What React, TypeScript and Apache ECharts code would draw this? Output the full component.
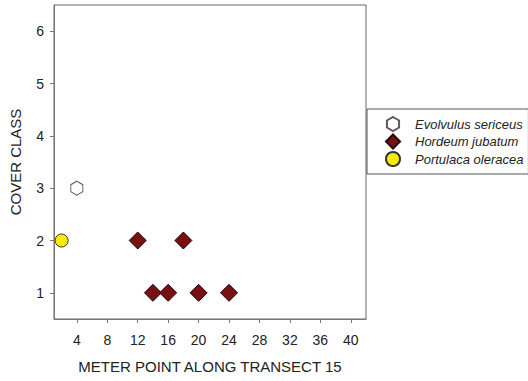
import React, { useEffect, useRef } from "react";
import * as echarts from "echarts";

const seriesNames = ["Evolvulus sericeus", "Hordeum jubatum", "Portulaca oleracea"];
const evolvulusX = [4];
const evolvulusY = [3];
const hordeumX = [12, 18, 14, 16, 20, 24];
const hordeumY = [2, 2, 1, 1, 1, 1];
const portulacaX = [2];
const portulacaY = [2];
const xTicks = [4, 8, 12, 16, 20, 24, 28, 32, 36, 40];
const yTicks = [1, 2, 3, 4, 5, 6];
const xTitle = "METER POINT ALONG TRANSECT 15";
const yTitle = "COVER CLASS";

const FONT = "'Liberation Sans', Arial, sans-serif";
const HEX = "path://M0,-1 L0.866,-0.5 L0.866,0.5 L0,1 L-0.866,0.5 L-0.866,-0.5 Z";

const zip = (xs: number[], ys: number[]) => xs.map((x, i) => [x, ys[i]]);

export default function App() {
  const ref = useRef<HTMLDivElement>(null);
  useEffect(() => {
    document.body.style.margin = "0";
    const chart = echarts.init(ref.current!, null, { renderer: "svg" });
    chart.setOption({
      animation: false,
      backgroundColor: "#fff",
      textStyle: { fontFamily: FONT },
      grid: {
        left: 53,
        top: 5,
        width: 313,
        height: 314,
        show: true,
        borderColor: "#666",
        borderWidth: 1,
        backgroundColor: "transparent",
      },
      legend: {
        orient: "vertical",
        left: 367,
        top: 109,
        padding: [7, 5, 7, 18],
        itemWidth: 14,
        itemHeight: 14,
        itemGap: 1.5,
        symbolKeepAspect: true,
        borderColor: "#555",
        borderWidth: 1,
        borderRadius: 0,
        textStyle: {
          fontSize: 13,
          fontStyle: "italic",
          color: "#222",
          fontFamily: FONT,
          padding: [0, 0, 0, 10],
        },
        data: seriesNames,
      },
      xAxis: {
        type: "value",
        min: 1,
        max: 42,
        name: xTitle,
        nameLocation: "middle",
        nameGap: 40,
        nameTextStyle: { fontSize: 15, color: "#222", fontFamily: FONT },
        splitLine: { show: false },
        axisLine: { show: true, lineStyle: { color: "#777" } },
        axisTick: { show: true, length: 4, customValues: xTicks, lineStyle: { color: "#777" } },
        axisLabel: { customValues: xTicks, fontSize: 14, color: "#222", margin: 14, fontFamily: FONT },
      },
      yAxis: {
        type: "value",
        min: 0.5,
        max: 6.5,
        name: yTitle,
        nameLocation: "middle",
        nameGap: 31,
        nameTextStyle: { fontSize: 15, color: "#222", fontFamily: FONT },
        splitLine: { show: false },
        axisLine: { show: true, lineStyle: { color: "#777" } },
        axisTick: { show: true, length: 4, customValues: yTicks, lineStyle: { color: "#777" } },
        axisLabel: { customValues: yTicks, fontSize: 14, color: "#222", margin: 10, fontFamily: FONT },
      },
      series: [
        {
          name: seriesNames[0],
          type: "scatter",
          data: zip(evolvulusX, evolvulusY),
          symbol: HEX,
          symbolSize: [12, 14],
          itemStyle: { color: "#ffffff", borderColor: "#333", borderWidth: 1 },
        },
        {
          name: seriesNames[1],
          type: "scatter",
          data: zip(hordeumX, hordeumY),
          symbol: "diamond",
          symbolSize: 17,
          itemStyle: { color: "#781012", borderColor: "#200606", borderWidth: 1, opacity: 1 },
        },
        {
          name: seriesNames[2],
          type: "scatter",
          data: zip(portulacaX, portulacaY),
          symbol: "circle",
          symbolSize: 13,
          itemStyle: { color: "#f8ec00", borderColor: "#333", borderWidth: 1, opacity: 1 },
        },
      ],
    });
    return () => chart.dispose();
  }, []);
  return <div ref={ref} style={{ width: 528, height: 381 }} />;
}
